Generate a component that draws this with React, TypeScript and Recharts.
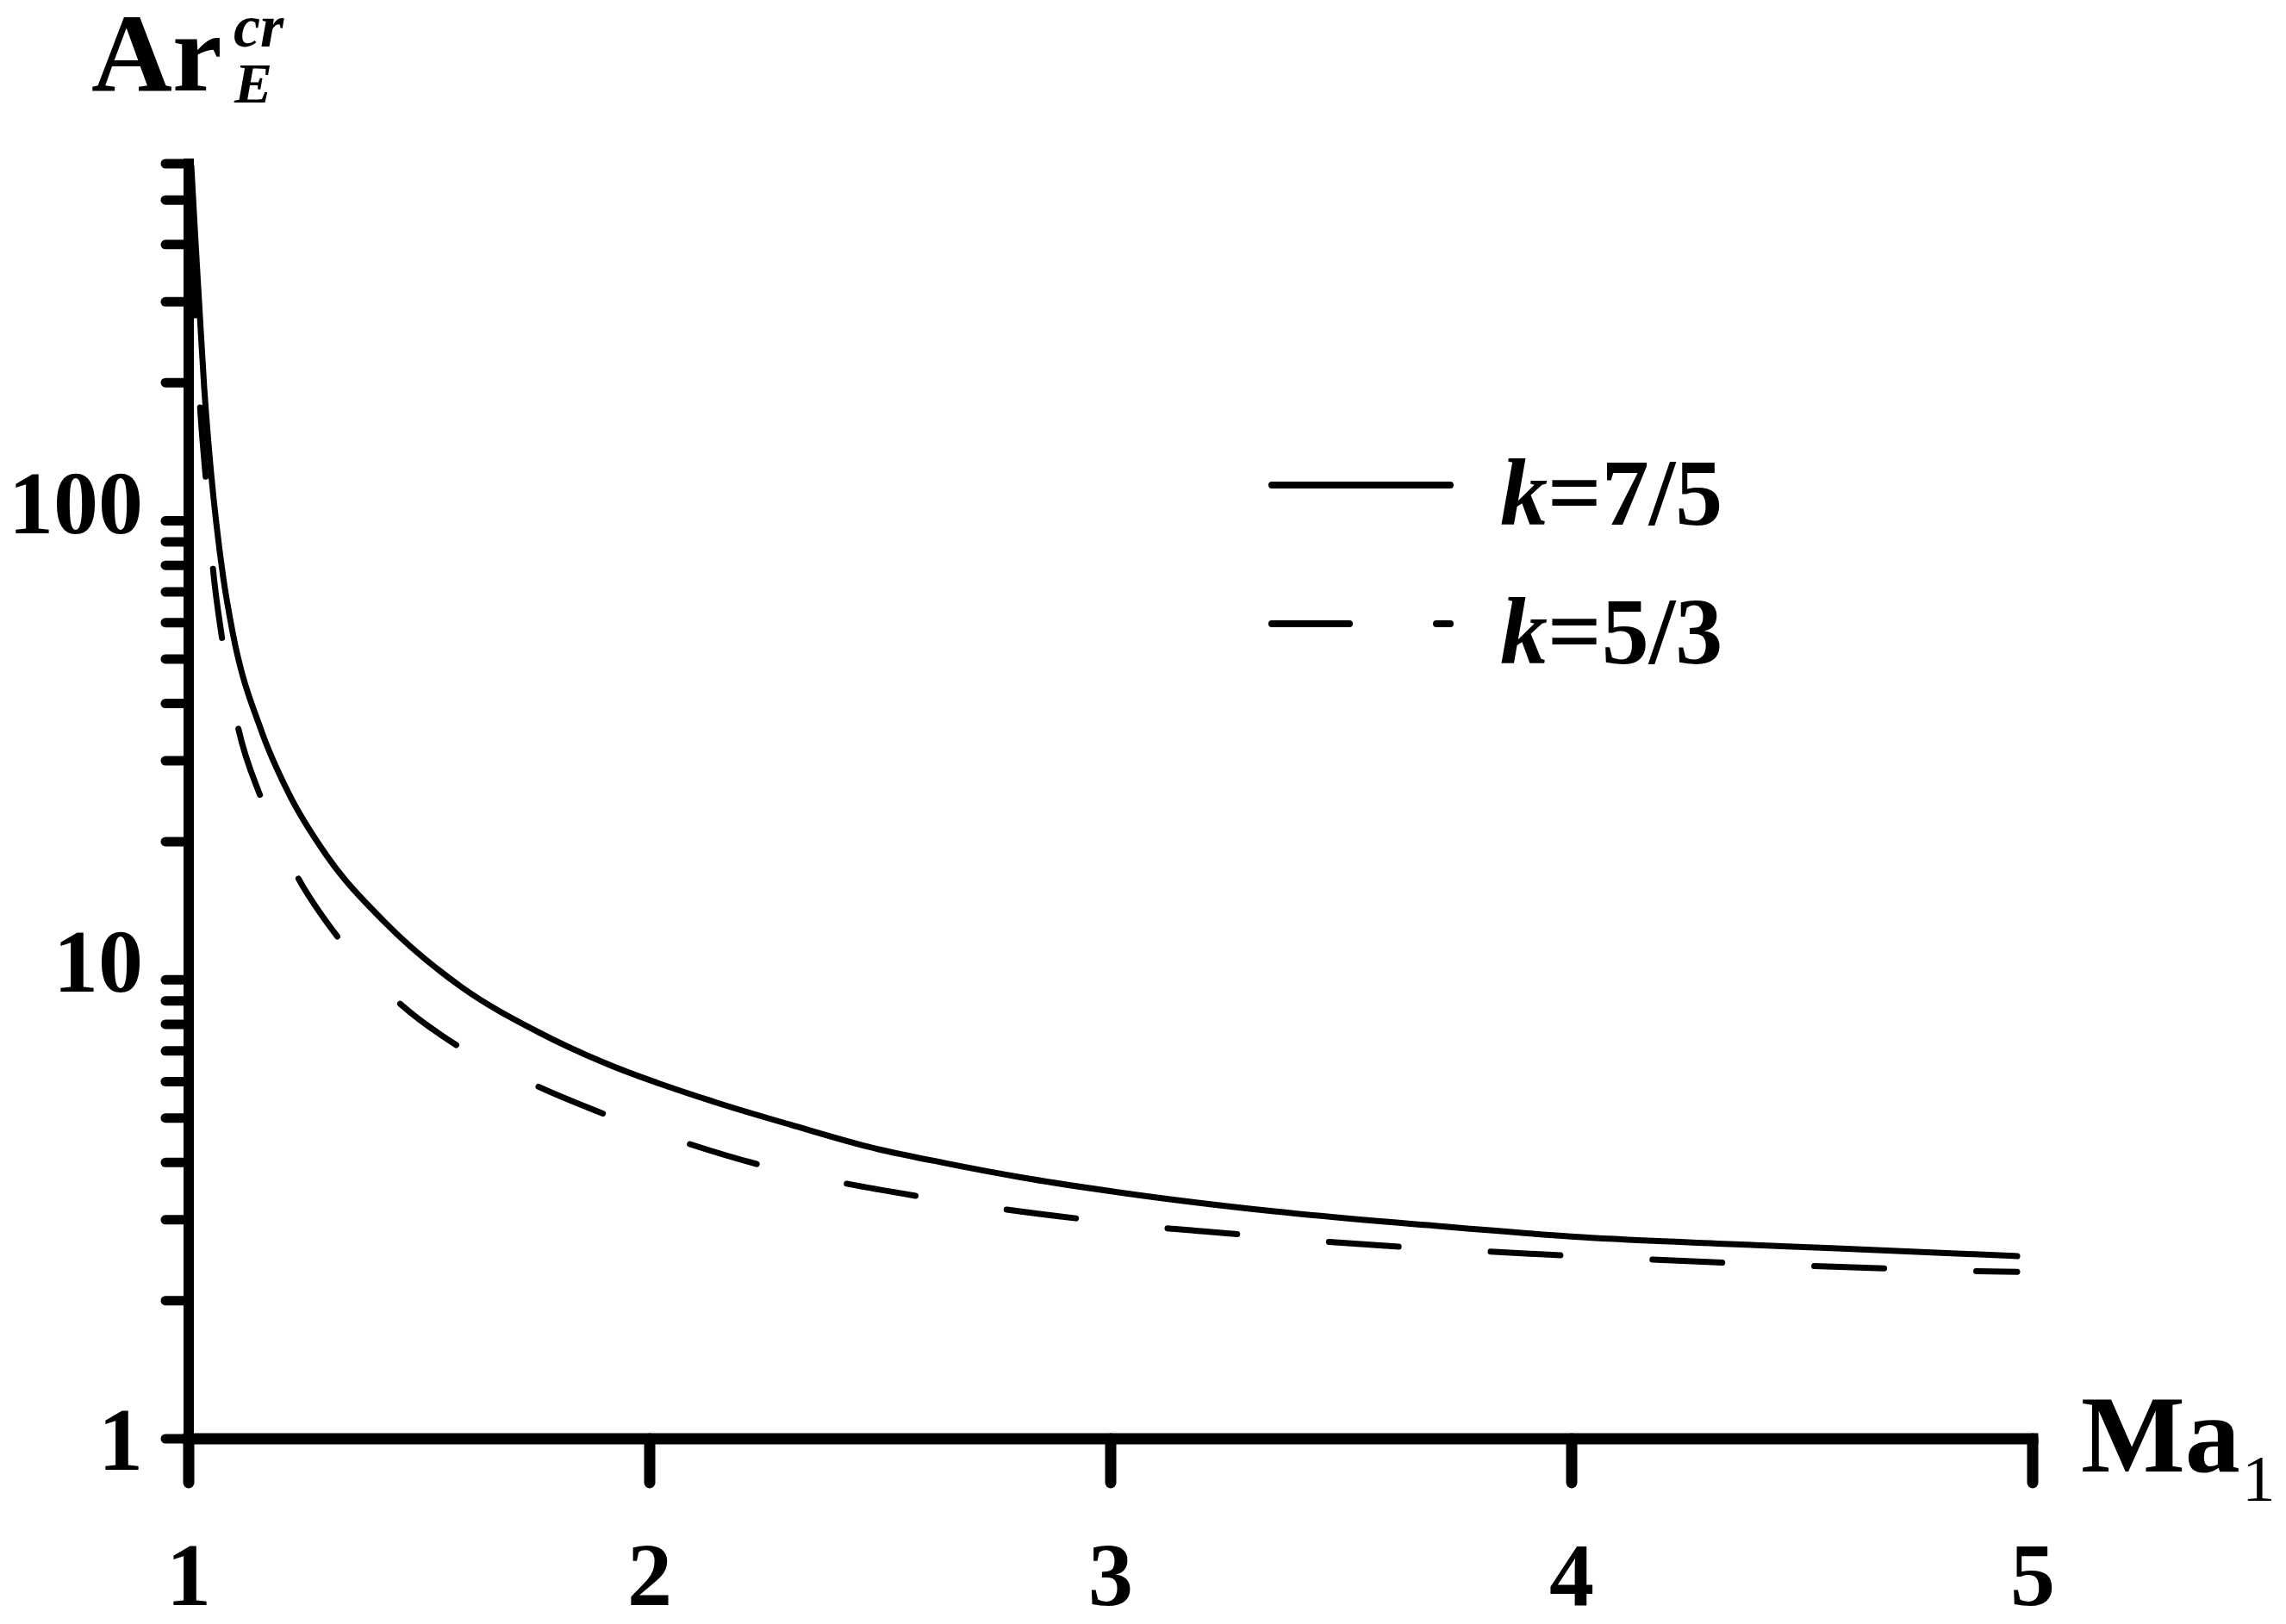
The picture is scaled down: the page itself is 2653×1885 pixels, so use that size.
import React from 'react';
import { LineChart, Line, XAxis, YAxis, Legend } from 'recharts';

// Ma1 values and critical Archimedes number for k = 7/5 (solid)
const maK75 = [1.0056, 1.015, 1.0224, 1.0336, 1.0486, 1.0598, 1.0748, 1.0953, 1.1589, 1.2168, 1.2991, 1.4243, 1.5925, 1.7589, 1.8991, 2.1402, 2.3065, 2.4729, 2.6393, 2.8075, 3.0206, 3.3551, 3.6879, 4.0224, 4.329, 4.5757, 4.9664];
const arK75 = [593, 402, 301, 195, 127, 99, 75.4, 57.2, 34.6, 25.5, 18.66, 13.38, 9.63, 7.69, 6.61, 5.42, 4.83, 4.33, 3.99, 3.71, 3.44, 3.13, 2.92, 2.75, 2.66, 2.6, 2.5];

// Ma1 values and critical Archimedes number for k = 5/3 (dashed)
const maK53 = [1.0075, 1.015, 1.0243, 1.0374, 1.0523, 1.0729, 1.1065, 1.157, 1.2355, 1.3252, 1.4542, 1.5832, 1.7458, 1.8972, 2.0766, 2.2318, 2.4187, 2.5794, 2.7626, 2.9271, 3.1121, 3.2785, 3.4636, 3.6299, 3.8131, 3.9794, 4.1645, 4.329, 4.5159, 4.6822, 4.8673, 4.9664];
const arK53 = [398, 272, 179.7, 122.4, 79.4, 55.0, 35.7, 24.9, 16.8, 12.32, 8.95, 7.18, 5.93, 5.12, 4.42, 3.97, 3.61, 3.38, 3.17, 3.02, 2.88, 2.79, 2.69, 2.62, 2.56, 2.51, 2.46, 2.42, 2.38, 2.35, 2.32, 2.31];

const xTicks = [1, 2, 3, 4, 5];
const yTicks = [1, 2, 3, 4, 5, 6, 7, 8, 9, 10, 20, 30, 40, 50, 60, 70, 80, 90, 100, 200, 300, 400, 500, 600];
const yLabelled = [1, 10, 100];
const seriesNames = ['k=7/5', 'k=5/3'];

const dataK75 = maK75.map((m, i) => ({ ma: m, ar: arK75[i] }));
const dataK53 = maK53.map((m, i) => ({ ma: m, ar: arK53[i] }));

const FONT = '"Liberation Serif", "Times New Roman", Times, serif';

const XTick = (props: any) => {
  const { x, payload } = props;
  return (
    <text x={x} y={1855} textAnchor="middle" fontFamily={FONT} fontWeight="bold" fontSize={104} fill="#000">
      {payload.value}
    </text>
  );
};

const YTick = (props: any) => {
  const { y, payload } = props;
  if (!yLabelled.includes(payload.value)) return <g />;
  const dy = payload.value === 1 ? 36 : 14;
  return (
    <text x={158} y={y + dy} textAnchor="end" fontFamily={FONT} fontWeight="bold" fontSize={104} fill="#000">
      {payload.value}
    </text>
  );
};

const MaLabel = () => (
  <g>
    <text x={2407} y={1700} fontFamily={FONT} fontWeight="bold" fontSize={128} fill="#000">Ma</text>
    <text x={2594} y={1734} fontFamily={FONT} fontSize={77} fill="#000">1</text>
  </g>
);

const ArLabel = () => (
  <g>
    <text x={98} y={97} fontFamily={FONT} fontWeight="bold" fontSize={130} fill="#000">Ar</text>
    <text x={263} y={46} fontFamily={FONT} fontWeight="bold" fontStyle="italic" fontSize={70} fill="#000">cr</text>
    <text x={264} y={111} fontFamily={FONT} fontWeight="bold" fontStyle="italic" fontSize={66} fill="#000">E</text>
  </g>
);

const renderLegend = (props: any) => {
  const payload: any[] = props.payload || [];
  const ordered = seriesNames
    .map((n) => payload.find((p) => p.value === n))
    .filter(Boolean);
  const rows = [
    { lineY: 75, textY: 121 },
    { lineY: 236, textY: 282 },
  ];
  return (
    <svg width={640} height={320} style={{ overflow: 'visible' }}>
      {ordered.map((entry: any, i: number) => {
        const r = rows[i];
        const dashed = entry.payload && entry.payload.strokeDasharray;
        const name: string = entry.value;
        return (
          <g key={name}>
            <line
              x1={28}
              x2={235}
              y1={r.lineY}
              y2={r.lineY}
              stroke="#000"
              strokeWidth={8}
              strokeLinecap="round"
              strokeDasharray={dashed ? '90 101' : undefined}
            />
            <text x={293} y={r.textY} fontFamily={FONT} fontWeight="bold" fontSize={110} fill="#000">
              <tspan fontStyle="italic">{name.charAt(0)}</tspan>
              {name.slice(1)}
            </text>
          </g>
        );
      })}
    </svg>
  );
};

export default function App() {
  return (
    <div style={{ width: 2640, height: 1870, background: '#fff' }}>
      <LineChart width={2640} height={1870} margin={{ top: 182, right: 289, bottom: 0, left: 0 }}>
        <XAxis
          dataKey="ma"
          type="number"
          domain={[1, 5]}
          ticks={xTicks}
          interval={0}
          allowDataOverflow
          height={208}
          tickSize={51}
          tickMargin={0}
          axisLine={{ stroke: '#000', strokeWidth: 13, strokeLinecap: 'square' }}
          tickLine={{ stroke: '#000', strokeWidth: 13, strokeLinecap: 'round' }}
          tick={XTick}
          label={MaLabel}
        />
        <YAxis
          type="number"
          scale="log"
          domain={[1, 600]}
          ticks={yTicks}
          interval={0}
          allowDataOverflow
          width={211}
          tickSize={27}
          tickMargin={0}
          axisLine={{ stroke: '#000', strokeWidth: 12, strokeLinecap: 'square' }}
          tickLine={{ stroke: '#000', strokeWidth: 11, strokeLinecap: 'round' }}
          tick={YTick}
          label={ArLabel}
        />
        <Legend
          layout="horizontal"
          verticalAlign="middle"
          align="center"
          wrapperStyle={{ left: 1440, top: 480, width: 640, height: 320 }}
          content={renderLegend}
        />
        <Line
          data={dataK75}
          dataKey="ar"
          name={seriesNames[0]}
          type="monotone"
          stroke="#000"
          strokeWidth={7}
          strokeLinecap="round"
          dot={false}
          activeDot={false}
          isAnimationActive={false}
        />
        <Line
          data={dataK53}
          dataKey="ar"
          name={seriesNames[1]}
          type="monotone"
          stroke="#000"
          strokeWidth={7}
          strokeLinecap="round"
          strokeDasharray="81 107"
          dot={false}
          activeDot={false}
          isAnimationActive={false}
        />
      </LineChart>
    </div>
  );
}
